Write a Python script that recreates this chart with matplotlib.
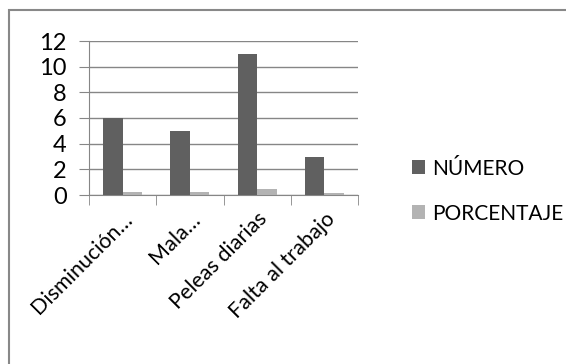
import matplotlib.pyplot as plt
from matplotlib.patches import Rectangle
import numpy as np

categorias = ["Disminución…", "Mala…", "Peleas diarias", "Falta al trabajo"]
numero = [6, 5, 11, 3]
porcentaje = [0.24, 0.2, 0.44, 0.12]

plt.rcParams['font.family'] = ['Lato', 'DejaVu Sans']

fig = plt.figure(figsize=(5.66, 3.64), dpi=100)
ax = fig.add_axes([89/566, 1-195/364, (358-89)/566, (195-41)/364])

# marco exterior del grafico
fig.patches.append(Rectangle((9/566, -0.1), 1.2, 1-10/364+0.1, transform=fig.transFigure,
                             fill=False, edgecolor='#888888', linewidth=1.5))

x = np.arange(len(categorias))
ancho = 0.29
ax.bar(x - ancho/2, numero, ancho, color='#606060', label='NÚMERO', zorder=3)
ax.bar(x + ancho/2, porcentaje, ancho, color='#b3b3b3', label='PORCENTAJE', zorder=3)

ax.set_xlim(-0.5, len(categorias) - 0.5)
ax.set_ylim(0, 12)
ax.set_yticks(range(0, 13, 2))
ax.grid(axis='y', color='#868686', linewidth=1, zorder=0)
for s in ['top', 'right']:
    ax.spines[s].set_visible(False)
for s in ['left', 'bottom']:
    ax.spines[s].set_color('#868686')
ax.tick_params(axis='y', length=7, color='#868686', labelsize=17, pad=9)

ax.set_xticks(x)
ax.set_xticklabels(categorias, rotation=45, ha='right', rotation_mode='anchor', fontsize=15.5)
ax.tick_params(axis='x', length=0, pad=10)
ax.set_xticks(np.arange(-0.5, len(categorias)), minor=True)
ax.tick_params(axis='x', which='minor', length=7, color='#868686')

fig.legend(loc='upper left', bbox_to_anchor=(393/566, 1-140/364), frameon=False,
           fontsize=15, handlelength=0.65, handleheight=0.65, handletextpad=0.35,
           labelspacing=1.2)

plt.savefig('out.png', dpi=100)
